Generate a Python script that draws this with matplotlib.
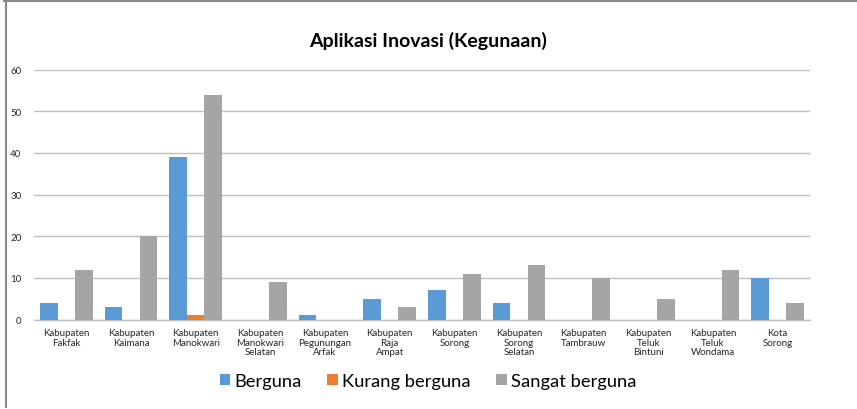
import matplotlib
matplotlib.use("Agg")
import matplotlib.pyplot as plt
import numpy as np
from matplotlib.lines import Line2D

plt.rcParams['font.family'] = ['Lato', 'DejaVu Sans']

categories = ["Kabupaten\nFakfak", "Kabupaten\nKaimana", "Kabupaten\nManokwari",
              "Kabupaten\nManokwari\nSelatan", "Kabupaten\nPegunungan\nArfak",
              "Kabupaten\nRaja\nAmpat", "Kabupaten\nSorong", "Kabupaten\nSorong\nSelatan",
              "Kabupaten\nTambrauw", "Kabupaten\nTeluk\nBintuni", "Kabupaten\nTeluk\nWondama",
              "Kota\nSorong"]
berguna = [4, 3, 39, 0, 1, 5, 7, 4, 0, 0, 0, 10]
kurang_berguna = [0, 0, 1, 0, 0, 0, 0, 0, 0, 0, 0, 0]
sangat_berguna = [12, 20, 54, 9, 0, 3, 11, 13, 10, 5, 12, 4]
series_names = ["Berguna", "Kurang berguna", "Sangat berguna"]
colors = ["#5B9BD5", "#ED7D31", "#A5A5A5"]

W, H = 857, 410
fig = plt.figure(figsize=(W/100, H/100), dpi=100)
ax = fig.add_axes([34/W, 1-320.5/H, (810-34)/W, (320.5-70.5)/H])

x = np.arange(len(categories))
bw = 0.27
for i, (vals, name, c) in enumerate(zip([berguna, kurang_berguna, sangat_berguna], series_names, colors)):
    ax.bar(x + (i-1)*bw, vals, width=bw, color=c, label=name, zorder=3)

ax.set_xlim(-0.5, len(categories)-0.5)
ax.set_ylim(0, 60)
ax.set_yticks(range(0, 61, 10))
ax.yaxis.grid(True, color="#BFBFBF", linewidth=1, zorder=0)
for s in ["top", "right", "left"]:
    ax.spines[s].set_visible(False)
ax.spines["bottom"].set_color("#BFBFBF")
ax.spines["bottom"].set_linewidth(1)
ax.tick_params(axis="y", length=0, labelsize=7, pad=9, labelcolor="#262626")
ax.tick_params(axis="x", length=0, labelsize=7, pad=6, labelcolor="#262626")
ax.set_xticks(x)
ax.set_xticklabels(categories, linespacing=1.1)

fig.text(0.5, 1-41/H, "Aplikasi Inovasi (Kegunaan)", ha="center", va="center",
         fontsize=14, fontweight="bold", color="black")

ax.legend(loc="center", bbox_to_anchor=(0.508, -0.245), ncol=3, frameon=False,
          fontsize=13.2, handlelength=0.55, handleheight=0.55, handletextpad=0.25,
          columnspacing=1.4)

fig.add_artist(Line2D([4/W, 856/W], [1-2/H, 1-2/H], color="#888888", linewidth=1.5, transform=fig.transFigure))
fig.add_artist(Line2D([5.5/W, 5.5/W], [1-2/H, 1-408/H], color="#888888", linewidth=1.5, transform=fig.transFigure))

fig.savefig("out.png", dpi=100)
